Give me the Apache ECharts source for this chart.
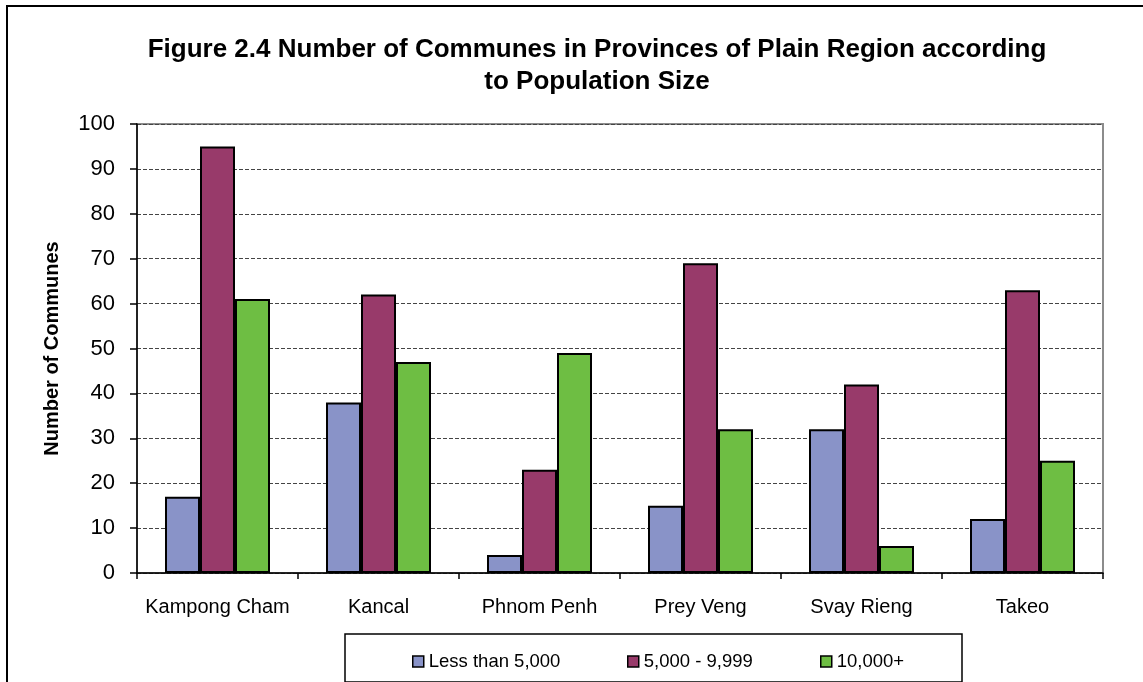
<!DOCTYPE html>
<html>
<head>
<meta charset="utf-8">
<script src="https://cdn.jsdelivr.net/npm/echarts@6/dist/echarts.min.js"></script>
<style>
  html, body { margin: 0; padding: 0; background: #ffffff; }
  #chart { width: 1143px; height: 682px; }
</style>
</head>
<body>
<div id="chart"></div>
<script>
// Provinces of the Plain Region
const provinces = ['Kampong Cham', 'Kancal', 'Phnom Penh', 'Prey Veng', 'Svay Rieng', 'Takeo'];

// Number of communes by population size band
const seriesNames = ['Less than 5,000', '5,000 - 9,999', '10,000+'];
const lessThan5000 = [17, 38, 4, 15, 32, 12];
const from5000To9999 = [95, 62, 23, 69, 42, 63];
const over10000 = [61, 47, 49, 32, 6, 25];

const yTicks = { min: 0, max: 100, interval: 10 };

const colors = ['#8993C8', '#983A6A', '#6EBE43'];
const FONT = '"Liberation Sans", Arial, sans-serif';

const chart = echarts.init(document.getElementById('chart'), null, { renderer: 'canvas' });

function barSeries(name, data, color) {
  return {
    name: name,
    type: 'bar',
    data: data,
    barWidth: 35,
    barGap: '0%',
    itemStyle: { color: color, borderColor: '#000000', borderWidth: 2 },
    emphasis: { disabled: true }
  };
}

// one legend entry per box slot, laid out along the bottom key
const legendLefts = [407, 622, 815];
const legends = seriesNames.map(function (name, i) {
  return {
    data: [name],
    left: legendLefts[i],
    top: 647,
    itemWidth: 11,
    itemHeight: 11,
    icon: 'rect',
    itemStyle: { borderColor: '#000000', borderWidth: 1.5 },
    textStyle: { fontFamily: FONT, fontSize: 18.5, color: '#000000' },
    selectedMode: false
  };
});

chart.setOption({
  animation: false,
  backgroundColor: '#ffffff',
  textStyle: { fontFamily: FONT },
  title: {
    text: 'Figure 2.4 Number of Communes in Provinces of Plain Region according\nto Population Size',
    left: 592,
    top: 29,
    textAlign: 'center',
    textStyle: { fontFamily: FONT, fontSize: 26, fontWeight: 'bold', color: '#000000', lineHeight: 32 }
  },
  grid: {
    left: 137, top: 124, width: 966, height: 449,
    show: true, borderColor: '#8c8c8c', borderWidth: 2, backgroundColor: 'transparent'
  },
  legend: legends,
  xAxis: {
    type: 'category',
    data: provinces,
    axisLine: { lineStyle: { color: '#000000', width: 1.5 } },
    axisTick: { show: true, interval: 0, length: 6, lineStyle: { color: '#000000', width: 1.5 } },
    axisLabel: { interval: 0, fontFamily: FONT, fontSize: 20, color: '#000000', margin: 24 }
  },
  yAxis: {
    type: 'value',
    min: yTicks.min,
    max: yTicks.max,
    interval: yTicks.interval,
    name: 'Number of Communes',
    nameLocation: 'middle',
    nameGap: 75,
    nameRotate: 90,
    nameTextStyle: { fontFamily: FONT, fontSize: 20, fontWeight: 'bold', color: '#000000' },
    axisLine: { show: true, lineStyle: { color: '#000000', width: 1.5 } },
    axisTick: { show: true, length: 7, lineStyle: { color: '#000000', width: 1.5 } },
    axisLabel: { fontFamily: FONT, fontSize: 22, color: '#000000', margin: 22 },
    splitLine: { show: true, lineStyle: { color: '#444444', width: 1, type: [4, 2] } }
  },
  graphic: [
    {
      // outer frame (left and top edges)
      type: 'polyline',
      shape: { points: [[7, 700], [7, 6], [1150, 6]] },
      style: { stroke: '#000000', lineWidth: 2, fill: null },
      silent: true
    },
    {
      // legend box
      type: 'rect',
      shape: { x: 345, y: 634, width: 617, height: 48 },
      style: { stroke: '#000000', lineWidth: 1.5, fill: null },
      silent: true,
      z: -1
    }
  ],
  series: [
    barSeries(seriesNames[0], lessThan5000, colors[0]),
    barSeries(seriesNames[1], from5000To9999, colors[1]),
    barSeries(seriesNames[2], over10000, colors[2])
  ]
});
</script>
</body>
</html>
